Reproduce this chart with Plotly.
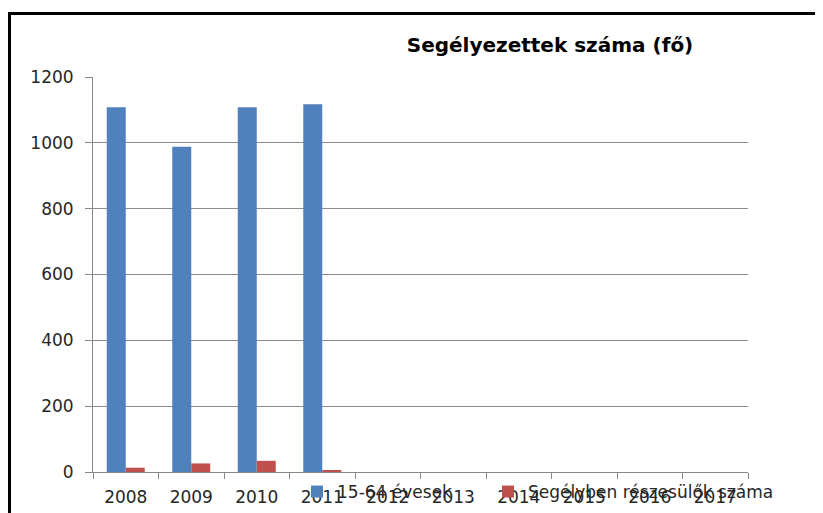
import plotly.graph_objects as go

years = ["2008", "2009", "2010", "2011", "2012", "2013", "2014", "2015", "2016", "2017"]
age_15_64 = [1108, 988, 1108, 1117, None, None, None, None, None, None]
recipients = [13, 26, 34, 4, None, None, None, None, None, None]
y_ticks = [0, 200, 400, 600, 800, 1000, 1200]

# the page body adds an 8px offset; work in screen pixels and convert
OFF = 8
SW, SH = 823, 513
W, H = SW - OFF, SH - OFF
L, R, T, B = 93 - OFF, SW - 748, 77 - OFF, SH - 472
pw, ph = W - L - R, H - T - B


def px_x(x):
    return (x - OFF - L) / pw


def px_y(y):
    return (H - B - (y - OFF)) / ph


font_main = "DejaVu Sans"
txt_col = "#262626"

fig = go.Figure()
fig.add_trace(go.Bar(x=years, y=age_15_64, name="15-64 évesek",
                     marker=dict(color="#4F81BD", line=dict(width=0)), legend="legend"))
fig.add_trace(go.Bar(x=years, y=recipients, name="Segélyben részesülők száma",
                     marker=dict(color="#C0504D", line=dict(width=0)), legend="legend2"))

border = dict(color="black", width=3)
fig.add_shape(type="line", xref="paper", yref="paper",
              x0=px_x(7), x1=px_x(SW + 5), y0=px_y(13.5), y1=px_y(13.5), line=border)
fig.add_shape(type="line", xref="paper", yref="paper",
              x0=px_x(9.5), x1=px_x(9.5), y0=px_y(12), y1=px_y(SH + 5), line=border)

fig.update_layout(
    width=W, height=H,
    margin=dict(l=L, r=R, t=T, b=B, autoexpand=False),
    paper_bgcolor="white", plot_bgcolor="white",
    barmode="group", bargap=0.42, bargroupgap=0,
    title=dict(text="<b>Segélyezettek száma (fő)</b>", xref="container", yref="container",
               x=(550 - OFF) / W, y=1 - (45 - OFF) / H, xanchor="center", yanchor="middle",
               font=dict(family=font_main, size=20, color="black")),
    font=dict(family=font_main, size=17, color=txt_col),
    xaxis=dict(type="category", tickson="boundaries", ticks="outside", ticklen=6,
               tickcolor="#888888", showline=True, linecolor="#888888", linewidth=1,
               showgrid=False, tickfont=dict(size=17, color=txt_col), ticklabelstandoff=10,
               fixedrange=True),
    yaxis=dict(range=[0, 1200], tickvals=y_ticks, ticks="outside", ticklen=7,
               tickcolor="#888888", showline=True, linecolor="#888888", linewidth=1,
               showgrid=True, gridcolor="#8c8c8c", gridwidth=1, zeroline=False,
               tickfont=dict(size=17, color=txt_col), ticklabelstandoff=8),
    legend=dict(orientation="h", x=px_x(297), y=px_y(474), xanchor="left", yanchor="top",
                bgcolor="rgba(0,0,0,0)", font=dict(size=17, color=txt_col)),
    legend2=dict(orientation="h", x=px_x(488), y=px_y(474), xanchor="left", yanchor="top",
                 bgcolor="rgba(0,0,0,0)", font=dict(size=17, color=txt_col)),
    showlegend=True,
)

fig.write_html("out.html")
